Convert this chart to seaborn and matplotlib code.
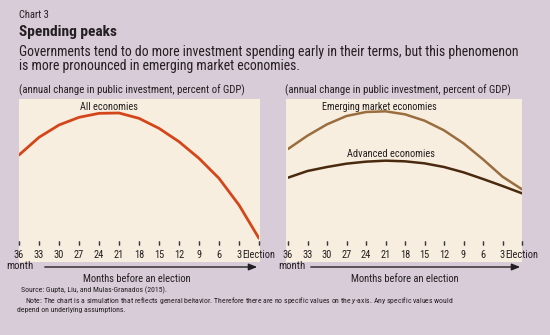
import matplotlib
matplotlib.use("Agg")
import matplotlib.pyplot as plt
import seaborn as sns
import pandas as pd
from matplotlib.patches import Rectangle, FancyArrowPatch
from matplotlib import font_manager

months = [36, 33, 30, 27, 24, 21, 18, 15, 12, 9, 6, 3, 0]
tick_labels = ["36", "33", "30", "27", "24", "21", "18", "15", "12", "9", "6", "3", "Election"]
all_econ = [275, 328, 365, 388, 400, 401, 385, 355, 315, 265, 205, 125, 25]
emerging = [293, 333, 367, 392, 404, 406, 397, 378, 349, 310, 262, 210, 172]
advanced = [207, 227, 239, 249, 255, 258, 256, 250, 239, 223, 203, 182, 160]

sns.set_theme(style="white")

# choose a narrow family if one is installed
entries = font_manager.fontManager.ttflist
names = {f.name for f in entries}
fam = None
for cand in ["Liberation Sans Narrow", "Roboto Condensed", "Open Sans Condensed", "Noto Sans Display"]:
    if cand in names:
        fam = cand
        break
stretch = "normal"
if fam is None:
    cond = [f for f in entries if f.name == "DejaVu Sans" and str(f.stretch) in ("condensed", "semi-condensed", "75", "87")]
    if cond:
        fam = "DejaVu Sans"
        stretch = "condensed"
    else:
        fam = "Liberation Sans"
plt.rcParams["font.family"] = [fam, "DejaVu Sans"]
plt.rcParams["font.stretch"] = stretch
plt.rcParams["mathtext.fontset"] = "custom"
plt.rcParams["mathtext.rm"] = fam
plt.rcParams["mathtext.it"] = fam + ":italic"
plt.rcParams["xtick.bottom"] = True
plt.rcParams["xtick.direction"] = "in"
plt.rcParams["xtick.major.size"] = 3.2
plt.rcParams["xtick.major.width"] = 0.9
plt.rcParams["xtick.color"] = "#3A3A3A"

W, H = 550, 335
BG = "#D9CCD9"
CREAM = "#F7EEDF"
TXT = "#231F20"
TICK = "#3A3A3A"

fig = plt.figure(figsize=(W / 100, H / 100), dpi=100, facecolor=BG)
renderer = fig.canvas.get_renderer()


def fx(x):
    return x / W


def fy(y):
    return 1 - y / H


def ftext(x, y, s, target_w, size, ax=None, **kw):
    """Place text and adjust its font size so that its width matches the reference."""
    kw.setdefault("color", TXT)
    kw.setdefault("va", "center")
    if ax is None:
        t = fig.text(fx(x), fy(y), s, fontsize=size, **kw)
    else:
        t = ax.text(x, y, s, fontsize=size, **kw)
    w = t.get_window_extent(renderer=renderer).width
    if w > 0:
        new = size * target_w / w
        new = max(min(new, size * 1.15), size * 0.6)
        t.set_fontsize(new)
    return t


# cream panels
for (x0, x1) in [(19, 260), (286, 522)]:
    fig.patches.append(Rectangle((fx(x0), fy(262)), fx(x1) - fx(x0), fy(99) - fy(262),
                                 transform=fig.transFigure, facecolor=CREAM, edgecolor="none", zorder=-5))

df_left = pd.DataFrame({"month": months, "value": all_econ})
df_right = pd.DataFrame({
    "month": months * 2,
    "value": emerging + advanced,
    "series": ["Emerging market economies"] * len(months) + ["Advanced economies"] * len(months),
})


def make_ax(x0, x1):
    ax = fig.add_axes([fx(x0), fy(245), fx(x1) - fx(x0), fy(99) - fy(245)])
    ax.patch.set_alpha(0)
    return ax


axL = make_ax(19, 259)
sns.lineplot(data=df_left, x="month", y="value", ax=axL, color="#D4461A", linewidth=2.0)

axR = make_ax(288, 522)
sns.lineplot(data=df_right, x="month", y="value", hue="series", ax=axR,
             palette={"Emerging market economies": "#9A6D3E", "Advanced economies": "#4A2A0E"},
             linewidth=1.8, legend=False)

# tick label size from the width of "Election" (about 32 px in the reference)
probe = fig.text(0, 0, "Election", fontsize=8.3)
tick_size = 8.3 * 33 / probe.get_window_extent(renderer=renderer).width
probe.remove()

for ax in (axL, axR):
    ax.set_xlim(36, 0)
    ax.set_ylim(5, 443)
    for s in ax.spines.values():
        s.set_visible(False)
    ax.set_xticks(months)
    ax.set_xticklabels(tick_labels)
    ax.set_yticks([])
    ax.set_xlabel("")
    ax.set_ylabel("")
    ax.tick_params(axis="x", which="major", direction="in", length=3.2, width=0.9, color=TICK,
                   pad=3.5, labelsize=tick_size, labelcolor=TXT, bottom=True, labelbottom=True)
    # short upward tick marks at each month position
    ax.vlines(months, 0, 0.028, transform=ax.get_xaxis_transform(), colors=TICK,
              linewidth=0.9, clip_on=False, zorder=3)

ftext(22.5, 418, "All economies", 58, 7.8, ax=axL, ha="center")
ftext(22.0, 420, "Emerging market economies", 117, 7.8, ax=axR, ha="center")
ftext(20.2, 278, "Advanced economies", 88, 7.8, ax=axR, ha="center")

# titles
ftext(19, 15, "Chart 3", 30, 7.3, ha="left")
ftext(19, 32, "Spending peaks", 98, 11.5, ha="left", fontweight="bold")
sub1 = ftext(19, 52, "Governments tend to do more investment spending early in their terms, but this phenomenon",
             497, 10.2, ha="left")
fig.text(fx(19), fy(66), "is more pronounced in emerging market economies.",
         fontsize=sub1.get_fontsize(), color=TXT, va="center", ha="left")

for x0 in (19, 285):
    ftext(x0, 90, "(annual change in public investment, percent of GDP)", 222, 7.6, ha="left")

# x-axis captions with arrows
for (mx, a0, a1, cx) in [(6, 42, 260, 137), (278, 308, 523, 405)]:
    ftext(mx, 266, "month", 27, 8.1, ha="left")
    fig.patches.append(FancyArrowPatch(
        (fx(a0), fy(267)), (fx(a1), fy(267)), transform=fig.transFigure,
        arrowstyle="-|>,head_length=5,head_width=2", color=TXT, linewidth=1.0, mutation_scale=1))
    ftext(cx, 279, "Months before an election", 108, 8.1, ha="center")

src = ftext(21, 290, "Source: Gupta, Liu, and Mulas-Granados (2015).", 146, 6.6, ha="left")
fs = src.get_fontsize()
fig.text(fx(25), fy(300),
         "Note: The chart is a simulation that reflects general behavior. Therefore there are no specific values on the "
         "$\\mathit{y}$-axis. Any specific values would",
         fontsize=fs, color=TXT, va="center", ha="left")
fig.text(fx(17), fy(310), "depend on underlying assumptions.", fontsize=fs, color=TXT, va="center", ha="left")

fig.savefig("out.png", dpi=100, facecolor=BG)
